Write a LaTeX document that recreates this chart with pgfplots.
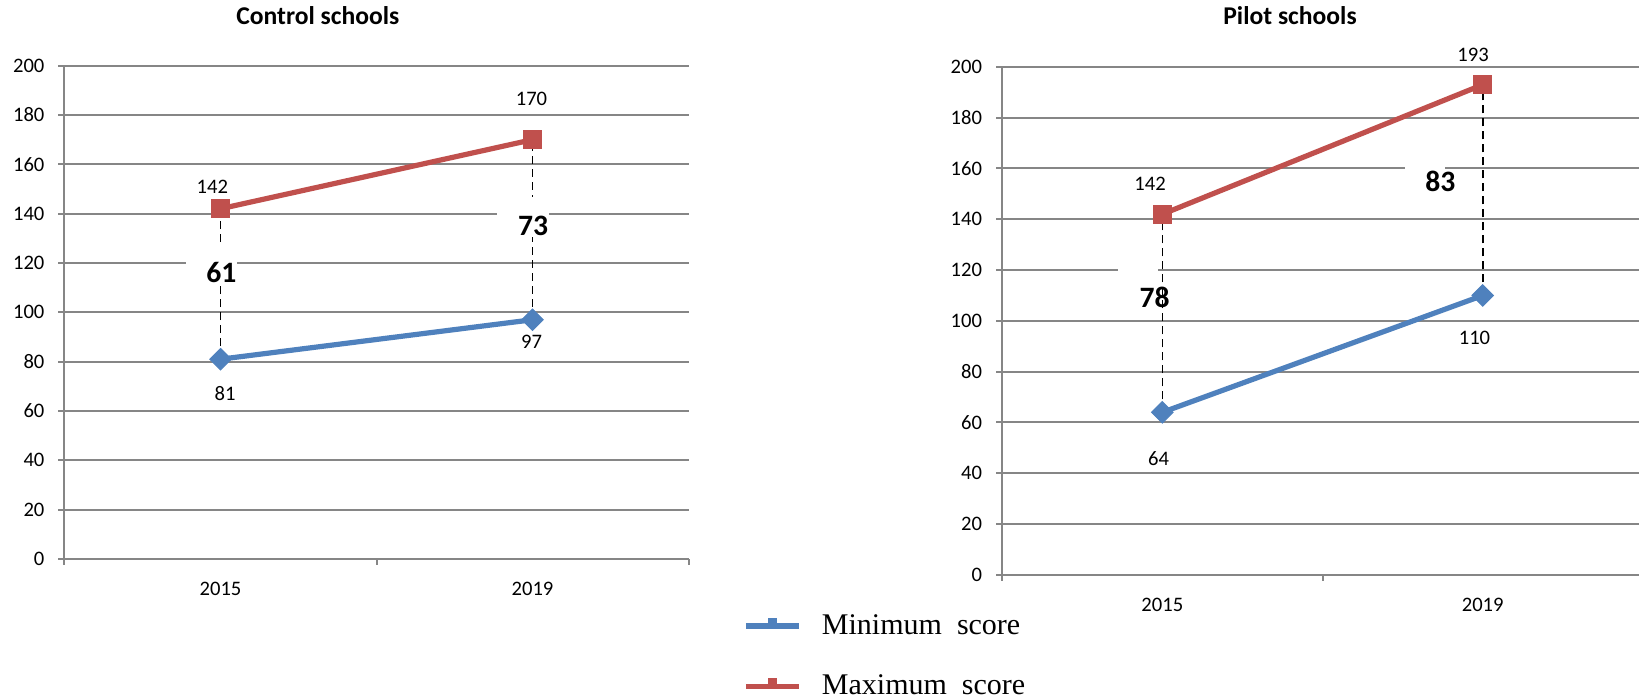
\documentclass[border=0pt]{standalone}
\usepackage{fontspec}
\setmainfont{Carlito}
\newfontfamily\legendfont{Liberation Serif}
\usepackage{pgfplots}
\pgfplotsset{compat=1.18}

\definecolor{minblue}{RGB}{79,129,189}
\definecolor{maxred}{RGB}{192,80,77}
\definecolor{gridgray}{RGB}{134,134,134}

\pgfplotsset{
  scorechart/.style={
    scale only axis,
    xmin=0, xmax=2, ymin=0, ymax=200,
    ytick={0,20,...,200},
    xtick={0,1,2},
    xticklabels={2015,2019},
    x tick label as interval,
    axis lines*=left,
    axis line style={gridgray, line width=1pt, -},
    ymajorgrids,
    grid style={gridgray, line width=1pt},
    tick style={gridgray, line width=1pt},
    tick align=outside,
    major tick length=3pt,
    tick label style={font=\fontsize{10.3}{12}\selectfont},
    yticklabel style={xshift=-3.5pt},
    xticklabel style={yshift=-5pt},
    /pgf/number format/assume math mode=true,
    clip=false,
  },
  minline/.style={minblue, line width=2.6pt, mark=square*,
    mark options={rotate=45, minblue, line width=0.5pt}, mark size=3.8pt},
  maxline/.style={maxred, line width=2.6pt, mark=square*,
    mark options={maxred, line width=0.5pt}, mark size=4.6pt},
  hilo/.style={black, line width=0.8pt, dash pattern=on 4pt off 2.5pt, forget plot},
}
\tikzset{
  vallabel/.style={font=\fontsize{10.3}{12}\selectfont, inner sep=0pt},
  difflabel/.style={font=\bfseries\fontsize{14.8}{17}\selectfont, inner sep=0pt},
}

\begin{document}
\begin{tikzpicture}[x=1pt,y=1pt]
% Control schools
\begin{axis}[scorechart, at={(32.25pt,70.5pt)}, anchor=south west,
  width=312pt, height=246.65pt,
  legend style={draw=none, fill=none, at={(1.0873,-0.112)}, anchor=north west,
    font=\legendfont\fontsize{15}{18}\selectfont, row sep=18.8pt,
    inner sep=0pt, nodes={inner sep=0pt}},
  legend cell align=left,
  legend image code/.code={
    \draw[#1, mark=none] (0pt,0pt) -- (26.5pt,0pt);
    \fill[#1, mark=none] (12.5pt,0pt) rectangle (14pt,2.8pt);
    \path[draw=none, fill=none] (0pt,0pt) -- (38pt,0pt);
  },
]
\addplot[minline] coordinates {(0.5,81) (1.5,97)};
\addlegendentry{Minimum\ \ score}
\addplot[maxline] coordinates {(0.5,142) (1.5,170)};
\addlegendentry{Maximum\ \ score}
\addplot[hilo] coordinates {(0.5,81) (0.5,142)};
\addplot[hilo] coordinates {(1.5,97) (1.5,170)};
\fill[white] (axis cs:0.389,111.9) rectangle (axis cs:0.553,128.1);
\fill[white] (axis cs:1.386,130.5) rectangle (axis cs:1.553,146.8);
\node[difflabel] at (axis cs:0.503,116.2) {61};
\node[difflabel] at (axis cs:1.502,135.0) {73};
\node[vallabel, xshift=-4.1pt, yshift=10.9pt] at (axis cs:0.5,142) {142};
\node[vallabel, xshift=-0.5pt, yshift=20.3pt] at (axis cs:1.5,170) {170};
\node[vallabel, xshift=2.3pt, yshift=-17pt] at (axis cs:0.5,81) {81};
\node[vallabel, xshift=-0.5pt, yshift=-11pt] at (axis cs:1.5,97) {97};
\end{axis}

% Pilot schools
\begin{axis}[scorechart, at={(501.05pt,62.55pt)}, anchor=south west,
  width=320.4pt, height=254pt]
\addplot[minline] coordinates {(0.5,64) (1.5,110)};
\addplot[maxline] coordinates {(0.5,142) (1.5,193)};
\addplot[hilo] coordinates {(0.5,64) (0.5,142)};
\addplot[hilo] coordinates {(1.5,110) (1.5,193)};
\fill[white] (axis cs:1.258,148.8) rectangle (axis cs:1.383,161.5);
\fill[white] (axis cs:0.362,104.7) rectangle (axis cs:0.487,120.8);
\node[difflabel] at (axis cs:1.368,154.8) {83};
\node[difflabel] at (axis cs:0.476,109.4) {78};
\node[vallabel, xshift=-6.1pt, yshift=15.4pt] at (axis cs:0.5,142) {142};
\node[vallabel, xshift=-4.8pt, yshift=14.9pt] at (axis cs:1.5,193) {193};
\node[vallabel, xshift=-1.9pt, yshift=-23pt] at (axis cs:0.5,64) {64};
\node[vallabel, xshift=-4.1pt, yshift=-21.4pt] at (axis cs:1.5,110) {110};
\end{axis}

\node[font=\bfseries\fontsize{12.8}{15}\selectfont, anchor=base] at (158.9pt,337.5pt) {Control schools};
\node[font=\bfseries\fontsize{12.8}{15}\selectfont, anchor=base] at (645pt,337.5pt) {Pilot schools};

\pgfresetboundingbox
\path[use as bounding box] (0pt,0pt) rectangle (819.5pt,350pt);
\end{tikzpicture}
\end{document}
